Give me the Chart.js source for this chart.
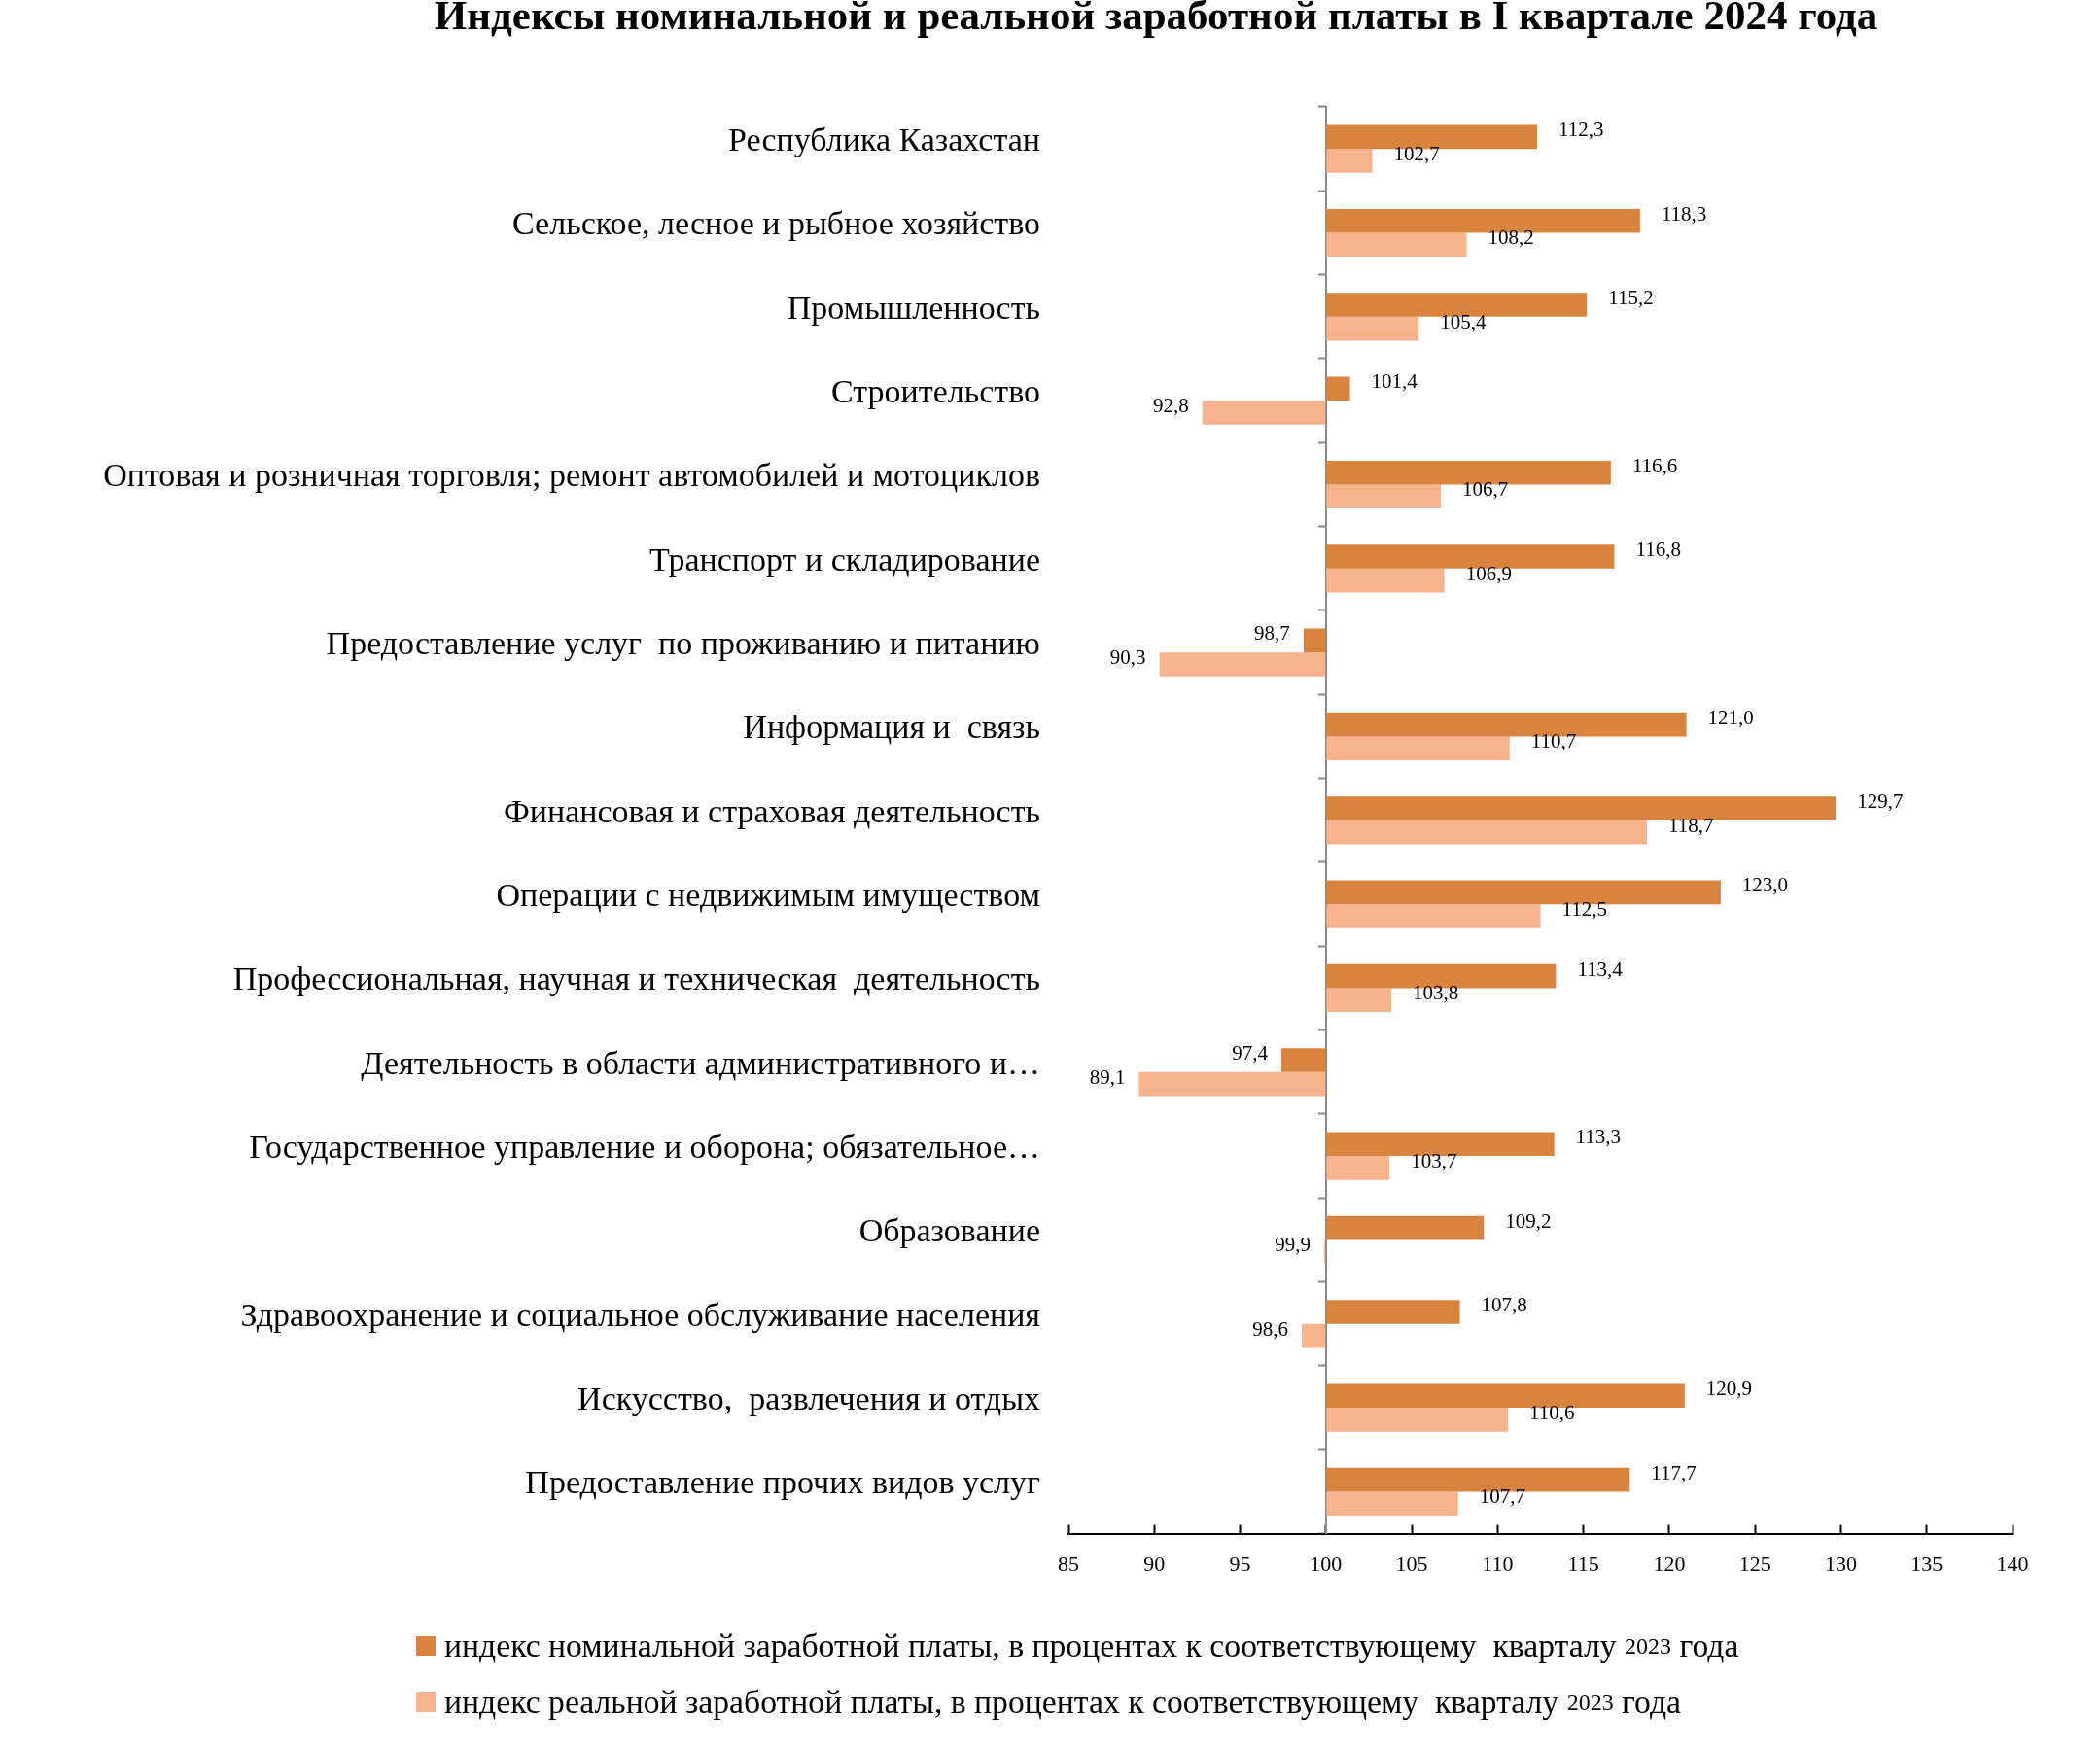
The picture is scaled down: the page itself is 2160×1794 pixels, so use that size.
<!DOCTYPE html>
<html lang="ru">
<head>
<meta charset="utf-8">
<title>Индексы заработной платы</title>
<script src="https://cdn.jsdelivr.net/npm/chart.js@4.4.1/dist/chart.umd.min.js"></script>
<style>
  html, body { margin: 0; padding: 0; background: #fff; overflow: hidden; }
  #wrap { position: relative; width: 2160px; height: 1794px; }
  #title { position: absolute; left: 189px; width: 2000px; top: -6px; text-align: center; font-family: "Liberation Serif", "Times New Roman", serif; font-weight: bold; font-size: 43px; line-height: 43px; color: #000; white-space: nowrap; }
  #legend { position: absolute; left: 428px; top: 1664px; font-family: "Liberation Serif", "Times New Roman", serif; font-size: 33.7px; color: #000; }
  #legend .item { height: 58px; line-height: 58px; white-space: pre; display: flex; align-items: center; }
  #legend .swatch { display: inline-block; width: 20px; height: 20px; margin-right: 9px; }
  #legend .yr { font-size: 24px; }
</style>
</head>
<body>
<div id="wrap">
  <canvas id="chart"></canvas>
  <div id="title"></div>
  <div id="legend"></div>
</div>
<script>
/* Индексы номинальной и реальной заработной платы — горизонтальные столбцы от базы 100 */

const TITLE = 'Индексы номинальной и реальной заработной платы в I квартале 2024 года';

const CATEGORIES = [
  'Республика Казахстан',
  'Сельское, лесное и рыбное хозяйство',
  'Промышленность',
  'Строительство',
  'Оптовая и розничная торговля; ремонт автомобилей и мотоциклов',
  'Транспорт и складирование',
  'Предоставление услуг  по проживанию и питанию',
  'Информация и  связь',
  'Финансовая и страховая деятельность',
  'Операции с недвижимым имуществом',
  'Профессиональная, научная и техническая  деятельность',
  'Деятельность в области административного и…',
  'Государственное управление и оборона; обязательное…',
  'Образование',
  'Здравоохранение и социальное обслуживание населения',
  'Искусство,  развлечения и отдых',
  'Предоставление прочих видов услуг',
];

const NOMINAL = [112.3, 118.3, 115.2, 101.4, 116.6, 116.8, 98.7, 121.0, 129.7, 123.0, 113.4, 97.4, 113.3, 109.2, 107.8, 120.9, 117.7];
const REAL    = [102.7, 108.2, 105.4, 92.8, 106.7, 106.9, 90.3, 110.7, 118.7, 112.5, 103.8, 89.1, 103.7, 99.9, 98.6, 110.6, 107.7];

const SERIES_LABELS = [
  'индекс номинальной заработной платы, в процентах к соответствующему  кварталу 2023 года',
  'индекс реальной заработной платы, в процентах к соответствующему  кварталу 2023 года',
];
const SERIES_COLORS = ['#d8843f', '#f6b38e'];

// ось значений: 85 … 140 с шагом 5, столбцы растут от 100
const X_MIN = 85, X_MAX = 140, X_STEP = 5;
const BASE = 100;

const SERIF = '"Liberation Serif", "Times New Roman", serif';
const PAD_LEFT = 100;

function fmtRu(v) { return v.toFixed(1).replace('.', ','); }

// подписи значений у конца каждого столбца (справа для >100, слева для <100)
const barValueLabels = {
  id: 'barValueLabels',
  afterDatasetsDraw(chart) {
    const c = chart.ctx;
    c.save();
    c.font = '21px ' + SERIF;
    c.fillStyle = '#000';
    c.textBaseline = 'middle';
    chart.data.datasets.forEach((ds, di) => {
      const meta = chart.getDatasetMeta(di);
      meta.data.forEach((bar, i) => {
        const v = ds.data[i];
        const up = v >= BASE;
        c.textAlign = up ? 'left' : 'right';
        c.fillText(fmtRu(v), bar.x + (up ? 22 : -14), bar.y - 6);
      });
    });
    c.restore();
  },
};

function renderLegend(containerId) {
  const el = document.getElementById(containerId);
  el.innerHTML = SERIES_LABELS.map((l, i) =>
    `<div class="item"><span class="swatch" style="background:${SERIES_COLORS[i]}"></span>${l.replace('2023', '<span class="yr">2023</span>')}</div>`
  ).join('');
}

Chart.defaults.font.family = SERIF;
Chart.defaults.color = '#000';

new Chart(document.getElementById('chart'), {
  type: 'bar',
  data: {
    labels: CATEGORIES,
    datasets: [
      { label: SERIES_LABELS[0], data: NOMINAL, backgroundColor: SERIES_COLORS[0], base: BASE },
      { label: SERIES_LABELS[1], data: REAL, backgroundColor: SERIES_COLORS[1], base: BASE },
    ],
  },
  plugins: [barValueLabels],
  options: {
    indexAxis: 'y',
    responsive: true, maintainAspectRatio: false,
    animation: false,
    categoryPercentage: 0.57,
    barPercentage: 1,
    layout: { padding: { left: PAD_LEFT, right: 90, top: 110, bottom: 143 } },
    plugins: {
      legend: { display: false },
      tooltip: { enabled: false },
      title: { display: false },
    },
    scales: {
      x: {
        type: 'linear', min: X_MIN, max: X_MAX,
        ticks: { stepSize: X_STEP, padding: 28, font: { size: 22 } },
        grid: { drawOnChartArea: false, drawTicks: true, tickLength: -9, tickColor: '#000', tickWidth: 2 },
        border: { display: true, color: '#000', width: 2 },
      },
      y: {
        type: 'category',
        ticks: { padding: 21, labelOffset: -7, font: { size: 34 } },
        grid: { display: false },
        border: { display: false },
        afterFit: (scale) => { scale.width = 1099 - PAD_LEFT; },
      },
      // вертикальная ось на уровне 100 с засечками между категориями
      y100: {
        type: 'category', axis: 'y', position: { x: BASE }, offset: true,
        ticks: { display: false },
        grid: { drawOnChartArea: false, offset: true, tickLength: 7, tickColor: '#888', tickWidth: 2 },
        border: { display: true, color: '#888', width: 2 },
      },
    },
  },
});

document.getElementById('title').textContent = TITLE;
renderLegend('legend');
</script>
</body>
</html>
